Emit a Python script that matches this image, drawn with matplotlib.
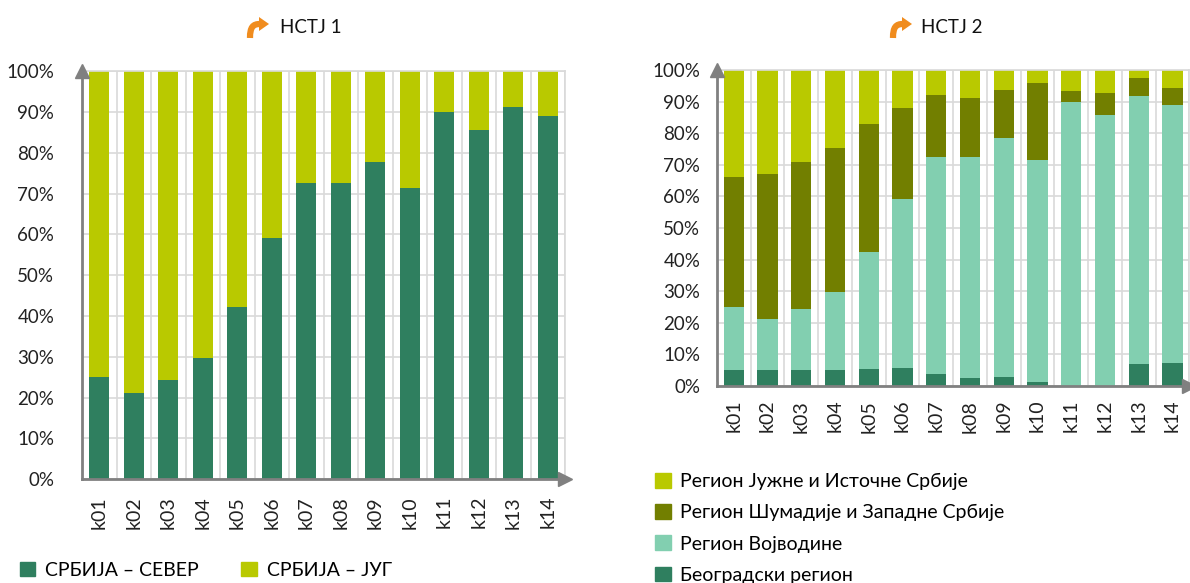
import matplotlib
matplotlib.use("Agg")
import matplotlib.pyplot as plt
import numpy as np
from matplotlib.patches import Patch, PathPatch, Polygon
from matplotlib.path import Path

plt.rcParams['font.family'] = ['Lato', 'DejaVu Sans']

# podaci
kvartali = ['k01', 'k02', 'k03', 'k04', 'k05', 'k06', 'k07', 'k08', 'k09', 'k10', 'k11', 'k12', 'k13', 'k14']

# NSTJ 1 (%)
sever = [25.1, 21.2, 24.3, 29.7, 42.2, 59.1, 72.5, 72.5, 77.7, 71.3, 90.0, 85.5, 91.2, 89.0]
jug = [100 - v for v in sever]

# NSTJ 2 (%)
beograd = [5.1, 5.1, 4.9, 5.1, 5.4, 5.6, 3.8, 2.4, 2.9, 1.3, 0.0, 0.0, 7.1, 7.4]
vojvodina = [20.0, 16.1, 19.4, 24.6, 36.9, 53.6, 68.7, 70.1, 75.7, 70.1, 90.0, 85.8, 84.6, 81.5]
sumadija = [41.1, 45.9, 46.6, 45.7, 40.7, 28.9, 19.7, 18.6, 15.2, 24.6, 3.4, 7.0, 5.9, 5.3]
juzna = [33.8, 32.9, 29.1, 24.6, 17.0, 11.9, 7.8, 8.9, 6.2, 4.0, 6.6, 7.2, 2.4, 5.8]

c_tamno = '#2f7f5f'
c_zuto = '#b9c900'
c_maslina = '#727f00'
c_menta = '#82cfb0'
c_osa = '#808080'
c_grid = '#d9d9d9'
c_ikona = '#f08c1e'

fig = plt.figure(figsize=(11.9, 5.83), dpi=100)


def uredi_osu(ax, pad_y, pad_x):
    x = np.arange(len(kvartali))
    ax.set_xlim(-0.5, len(kvartali) - 0.5)
    ax.set_ylim(0, 100)
    ax.set_yticks(np.arange(0, 101, 10))
    ax.set_yticklabels([f'{v}%' for v in range(0, 101, 10)], fontsize=13.5, color='#222222')
    ax.set_xticks(x)
    ax.set_xticklabels(kvartali, rotation=90, fontsize=14, color='#222222')
    ax.set_xticks(x + 0.5, minor=True)
    ax.tick_params(axis='both', which='both', length=0)
    ax.tick_params(axis='y', pad=pad_y)
    ax.tick_params(axis='x', pad=pad_x)
    ax.set_axisbelow(True)
    ax.grid(axis='y', color=c_grid, lw=1.2)
    ax.grid(axis='x', which='minor', color=c_grid, lw=1.2)
    for s in ['top', 'right']:
        ax.spines[s].set_color(c_grid)
        ax.spines[s].set_linewidth(1.2)
    for s in ['left', 'bottom']:
        ax.spines[s].set_color(c_osa)
        ax.spines[s].set_linewidth(2)
    # strelice na osama
    ax.plot(0, 1, '^', color=c_osa, ms=10, transform=ax.transAxes, clip_on=False, zorder=5)
    ax.plot(1, 0, '>', color=c_osa, ms=10, transform=ax.transAxes, clip_on=False, zorder=5)


def ikona(px, py):
    # narandzasta zakrivljena strelica ispred naslova (px, py u pikselima od gornjeg levog ugla)
    w, h = 1190.0, 583.0
    f = lambda dx, dy: ((px + dx) / w, 1 - (py + dy) / h)
    luk = Path([f(-7, 10), f(-7, -1), f(-4, -4), f(3, -4)],
               [Path.MOVETO, Path.CURVE4, Path.CURVE4, Path.CURVE4])
    fig.add_artist(PathPatch(luk, fill=False, lw=4.5, color=c_ikona,
                             capstyle='butt', transform=fig.transFigure))
    glava = Polygon([f(2, -11), f(12, -4), f(2, 3)], closed=True, color=c_ikona,
                    lw=0, transform=fig.transFigure)
    fig.add_artist(glava)


# --- NSTJ 1 ---
ax1 = fig.add_axes([0.069, 0.178, 0.406, 0.700])
x = np.arange(len(kvartali))
ax1.bar(x, sever, width=0.58, color=c_tamno, label='СРБИЈА – СЕВЕР')
ax1.bar(x, jug, width=0.58, bottom=sever, color=c_zuto, label='СРБИЈА – ЈУГ')
uredi_osu(ax1, 20, 12)
ikona(257, 28)
fig.text(0.261, 0.952, 'НСТЈ 1', fontsize=13.5, ha='center', va='center', color='#111111')
fig.legend(handles=[Patch(color=c_tamno, label='СРБИЈА – СЕВЕР'), Patch(color=c_zuto, label='СРБИЈА – ЈУГ')],
           loc='center left', bbox_to_anchor=(0.010, 0.022),
           ncol=2, frameon=False, fontsize=14, handlelength=0.8, handleheight=0.8,
           handletextpad=0.5, columnspacing=2.2, borderaxespad=0)

# --- NSTJ 2 ---
ax2 = fig.add_axes([0.6025, 0.338, 0.397, 0.542])
dno = np.zeros(len(kvartali))
serije = [(beograd, c_tamno, 'Београдски регион'),
          (vojvodina, c_menta, 'Регион Војводине'),
          (sumadija, c_maslina, 'Регион Шумадије и Западне Србије'),
          (juzna, c_zuto, 'Регион Јужне и Источне Србије')]
for vals, boja, ime in serije:
    ax2.bar(x, vals, width=0.6, bottom=dno, color=boja, label=ime)
    dno = dno + np.array(vals)
uredi_osu(ax2, 12, 10)
ikona(900, 28)
fig.text(0.80, 0.952, 'НСТЈ 2', fontsize=13.5, ha='center', va='center', color='#111111')
hand = [Patch(color=b, label=n) for _, b, n in serije][::-1]
fig.legend(handles=hand, loc='upper left', bbox_to_anchor=(0.544, 0.202),
           frameon=False, fontsize=14, handlelength=0.8, handleheight=0.8,
           handletextpad=0.5, labelspacing=0.72, borderaxespad=0)

fig.savefig('out.png', dpi=100)
